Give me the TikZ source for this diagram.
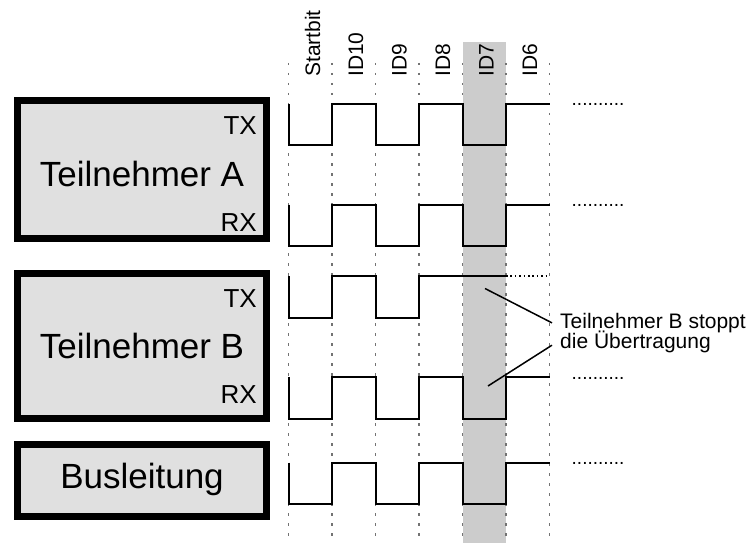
\documentclass[tikz,border=0pt]{standalone}
\usepackage{fontspec}
\setmainfont{Liberation Sans}
\definecolor{boxfill}{gray}{0.88}
\definecolor{bandgray}{gray}{0.8}
\definecolor{gridgray}{gray}{0.45}
\tikzset{
  unitbox/.style={draw=black, fill=boxfill, line width=7pt, minimum width=249pt, inner sep=0pt},
  bigtxt/.style={font=\fontsize{35}{38}\selectfont, inner sep=0pt},
  txrx/.style={font=\fontsize{26}{29}\selectfont, inner sep=0pt, anchor=base east},
  bitlbl/.style={font=\fontsize{21}{24}\selectfont, inner sep=0pt, rotate=90, anchor=base west},
  gridline/.style={draw=gridgray, line width=1.3pt, dash pattern=on 2.5pt off 7.5pt},
  wave/.style={draw=black, line width=2pt, line join=miter},
  contdots/.style={draw=black, line width=1.5pt, dash pattern=on 1.5pt off 2.9pt},
  moredots/.style={font=\fontsize{19}{22}\selectfont, inner sep=0pt, anchor=base west},
  notetxt/.style={font=\fontsize{21}{23}\selectfont, inner xsep=8pt, inner ysep=0pt, anchor=base west},
  noteline/.style={draw=black, line width=1.5pt}
}
\newcommand\sigwave[2]{%
  \draw[wave] (288.5,#1) |- (332,#2) |- (375.5,#1) |- (419,#2) |- (462.5,#1) |- (506,#2) |- (549.5,#1);}
\begin{document}
\begin{tikzpicture}[x=1pt,y=-1pt]
\useasboundingbox (0,0) rectangle (748,543);
% highlighted bit ID7
\fill[bandgray] (462.5,42) rectangle (505.5,543);
% bit boundaries
\foreach \gx in {288.5,332,375.5,419,462.5,506,549.5}
  \draw[gridline] (\gx,63) -- (\gx,543);
% bit labels
\node[bitlbl] (lS) at (320,77) {Startbit};
\node[bitlbl] (l10) at (363,77) {ID10};
\node[bitlbl] (l9) at (406.5,77) {ID9};
\node[bitlbl] (l8) at (450,77) {ID8};
\node[bitlbl] (l7) at (493.5,77) {ID7};
\node[bitlbl] (l6) at (537,77) {ID6};
% boxes
\node[unitbox, minimum height=138pt] (boxA) at (142,169.5) {};
\node[bigtxt, anchor=base] (nameA) at (142,186.7) {Teilnehmer A};
\node[txrx] (txA) at (257,135) {TX};
\node[txrx] (rxA) at (257,231) {RX};
\node[unitbox, minimum height=145pt] (boxB) at (142,346) {};
\node[bigtxt, anchor=base] (nameB) at (142,358.3) {Teilnehmer B};
\node[txrx] (txB) at (257,307.7) {TX};
\node[txrx] (rxB) at (257,403.3) {RX};
\node[unitbox, minimum height=72pt] (boxBus) at (142,480) {};
\node[bigtxt, anchor=base] (nameBus) at (142,488.3) {Busleitung};
% waveforms
\sigwave{104.3}{145}
\sigwave{204.5}{246}
\draw[wave] (288.5,276) |- (332,318) |- (375.5,276) |- (419,318) |- (506,276);
\draw[contdots] (506,276) -- (549.5,276);
\sigwave{377}{419}
\sigwave{462.5}{504}
% continuation dots
\node[moredots] (dA1) at (571.5,105.5) {..........};
\node[moredots] (dA2) at (571.5,206.5) {..........};
\node[moredots] (dB2) at (571.5,379) {..........};
\node[moredots] (dBus) at (571.5,464) {..........};
% annotation
\node[notetxt] (note1) at (552,328.3) {Teilnehmer B stoppt};
\node[notetxt] (note2) at (552,348.8) {die Übertragung};
\coordinate (stopTX) at (485,288.5);
\coordinate (stopRX) at (488,386);
\draw[noteline] (note1.west) -- (stopTX);
\draw[noteline] ([yshift=-3pt]note2.west) -- (stopRX);
\end{tikzpicture}
\end{document}
